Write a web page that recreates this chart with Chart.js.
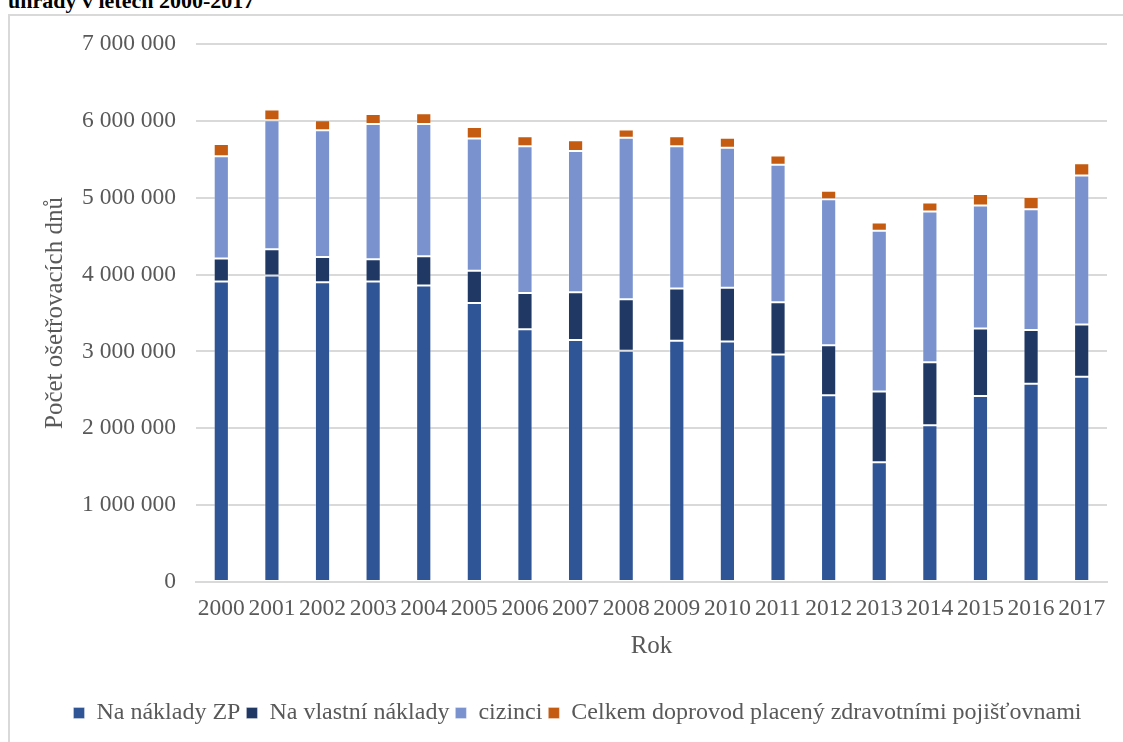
<!DOCTYPE html>
<html>
<head>
<meta charset="utf-8">
<script src="https://cdn.jsdelivr.net/npm/chart.js@4.4.1/dist/chart.umd.min.js"></script>
<style>
  body { margin: 0; background: #fff; overflow: hidden; }
  #title {
    position: absolute; left: 8px; top: -12px;
    font: bold 22px "Liberation Serif", serif; color: #000;
  }
  #box {
    position: absolute; left: 8px; top: 14px; width: 1130px; height: 740px;
    border: 2px solid #d9d9d9; box-sizing: border-box;
  }
  #wrap { position: absolute; left: 10px; top: 10px; width: 1113px; height: 732px; }
</style>
</head>
<body>
<div id="title">úhrady v letech 2000-2017</div>
<div id="box"></div>
<div id="wrap"><canvas id="chart"></canvas></div>
<script>
const years = ['2000', '2001', '2002', '2003', '2004', '2005', '2006', '2007', '2008',
  '2009', '2010', '2011', '2012', '2013', '2014', '2015', '2016', '2017'];

// values in millions of days
const naNakladyZP = [3.91, 3.99, 3.90, 3.91, 3.86, 3.63, 3.29, 3.15, 3.01,
  3.14, 3.13, 2.96, 2.43, 1.56, 2.04, 2.42, 2.58, 2.67];
const naVlastniNaklady = [0.30, 0.34, 0.33, 0.29, 0.38, 0.42, 0.47, 0.62, 0.67,
  0.68, 0.70, 0.68, 0.65, 0.92, 0.82, 0.88, 0.70, 0.68];
const cizinci = [1.33, 1.68, 1.65, 1.76, 1.72, 1.72, 1.91, 1.84, 2.10,
  1.85, 1.82, 1.79, 1.90, 2.09, 1.96, 1.60, 1.57, 1.94];
const doprovod = [0.16, 0.14, 0.13, 0.13, 0.14, 0.15, 0.13, 0.14, 0.11,
  0.13, 0.13, 0.12, 0.11, 0.11, 0.12, 0.15, 0.16, 0.16];

const yTicks = [0, 1, 2, 3, 4, 5, 6, 7];

function toDays(arr) {
  return arr.map(v => Math.round(v * 1000000));
}

function formatNumber(v) {
  return String(Math.round(v)).replace(/\B(?=(\d{3})+(?!\d))/g, ' ');
}

const textColor = '#595959';
const serif = '"Liberation Serif", "Times New Roman", serif';

function makeSet(label, data, color) {
  return {
    label: label,
    data: toDays(data),
    backgroundColor: color,
    borderColor: 'rgba(255,255,255,0.3)',
    borderWidth: 1,
    borderSkipped: false,
    categoryPercentage: 1,
    barPercentage: 0.3
  };
}

const ctx = document.getElementById('chart').getContext('2d');
new Chart(ctx, {
  type: 'bar',
  data: {
    labels: years,
    datasets: [
      makeSet('Na náklady ZP', naNakladyZP, '#2f5597'),
      makeSet('Na vlastní náklady', naVlastniNaklady, '#203864'),
      makeSet('cizinci', cizinci, '#7a93cf'),
      makeSet('Celkem doprovod placený zdravotními pojišťovnami', doprovod, '#c55a11')
    ]
  },
  options: {
    responsive: true,
    maintainAspectRatio: false,
    animation: false,
    layout: { padding: { top: 18, right: 16, left: 38, bottom: 7 } },
    plugins: {
      tooltip: { enabled: false },
      legend: {
        position: 'bottom',
        labels: {
          color: textColor,
          font: { family: serif, size: 24 },
          boxWidth: 11,
          boxHeight: 11,
          padding: 6
        }
      }
    },
    scales: {
      x: {
        stacked: true,
        grid: { display: false },
        border: { color: '#d9d9d9', width: 2 },
        ticks: {
          color: textColor,
          font: { family: serif, size: 23.5 },
          maxRotation: 0,
          autoSkip: false,
          padding: 5
        },
        title: {
          display: true,
          text: 'Rok',
          color: textColor,
          font: { family: serif, size: 25 },
          padding: { top: 4, bottom: 34 }
        },
        afterFit: scale => { scale.height = 113; }
      },
      y: {
        stacked: true,
        min: 0,
        max: 7000000,
        afterBuildTicks: scale => {
          scale.ticks = yTicks.map(v => ({ value: v * 1000000 }));
        },
        grid: { color: '#d9d9d9', lineWidth: 2, drawTicks: false },
        border: { display: false },
        ticks: {
          color: textColor,
          font: { family: serif, size: 23.5 },
          padding: 20,
          callback: v => formatNumber(v)
        },
        title: {
          display: true,
          text: 'Počet ošetřovacích dnů',
          color: textColor,
          font: { family: serif, size: 25 },
          padding: { top: -8, bottom: 0 }
        },
        afterFit: scale => { scale.width = 148; }
      }
    }
  }
});
</script>
</body>
</html>
